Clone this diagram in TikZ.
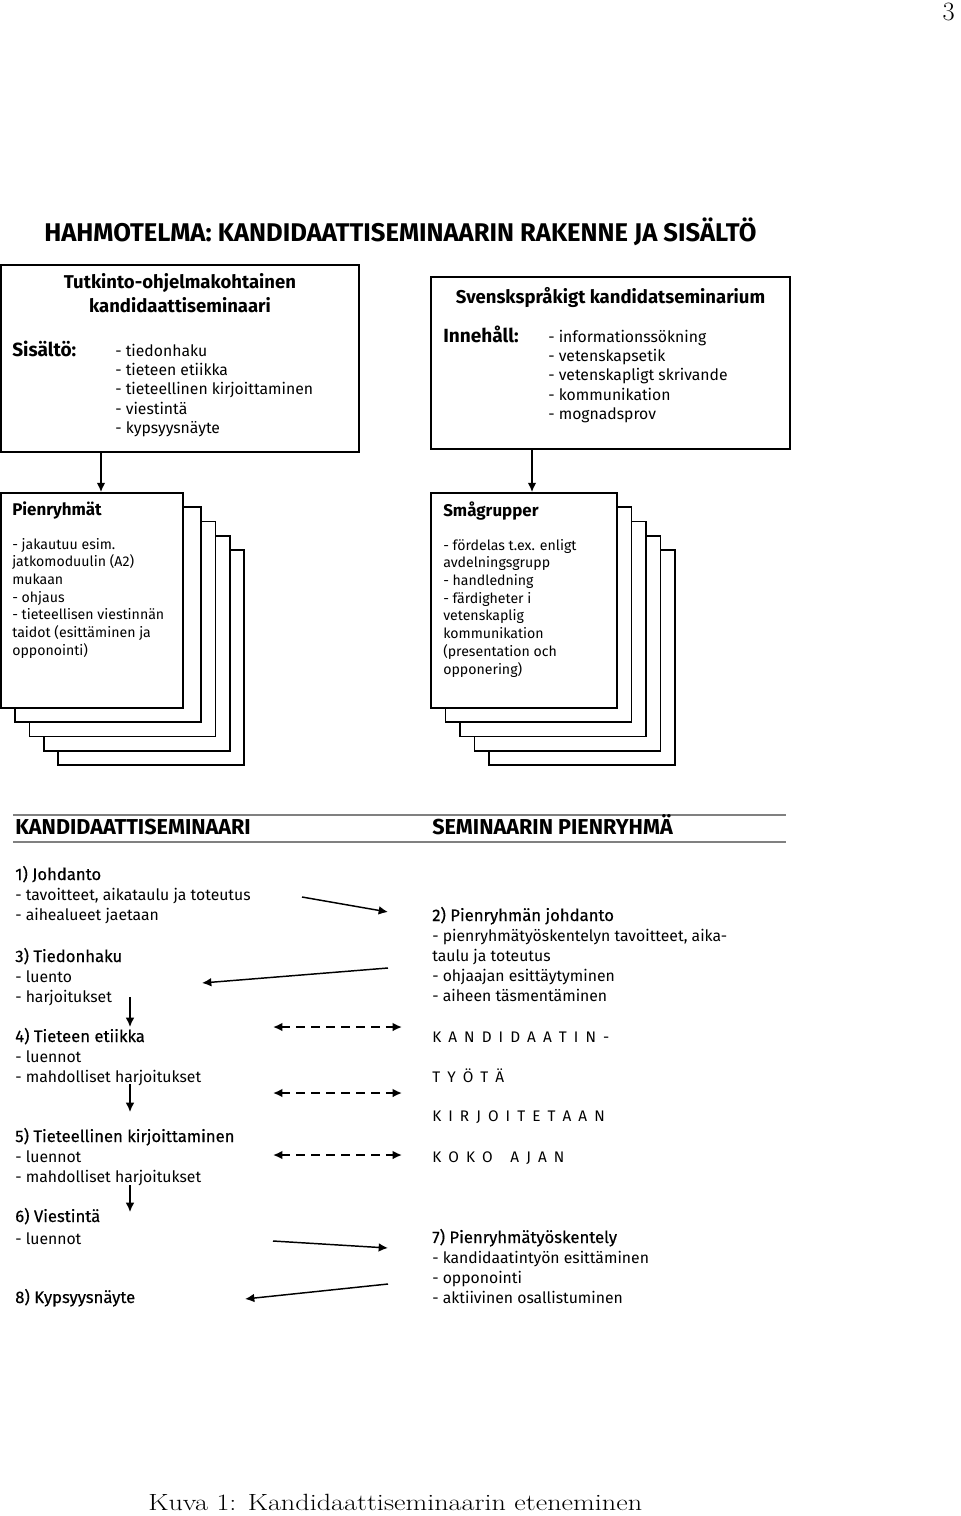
\documentclass[tikz,border=0pt]{standalone}
\usepackage{fontspec}
\usetikzlibrary{arrows.meta,fit}
\newfontfamily\fira{Fira Sans}
\newfontfamily\firamed[FakeBold=0.45]{Fira Sans}
\newcommand\txtrows[1]{\begin{tabular}[t]{@{}l@{}}#1\end{tabular}}
\tikzset{
 outerbox/.style={draw, line width=1.35pt, inner sep=0pt},
 cardbox/.style={draw, fill=white, line width=1.35pt, inner sep=0pt},
 lbl/.style={anchor=base west, inner sep=0pt},
 ctr/.style={anchor=base, inner sep=0pt},
 titletxt/.style={lbl, font={\fira\bfseries\fontsize{19.2}{22}\selectfont}},
 boxhead/.style={ctr, font={\fira\bfseries\fontsize{13.9}{16}\selectfont}},
 boxkey/.style={lbl, font={\fira\bfseries\fontsize{14.3}{16}\selectfont}},
 boxlist/.style={lbl, font={\fira\fontsize{11.8}{14.6}\selectfont}},
 cardhead/.style={lbl, font={\fira\bfseries\fontsize{12.7}{15}\selectfont}},
 cardlist/.style={lbl, font={\fira\fontsize{10.6}{13.3}\selectfont}},
 sechead/.style={lbl, font={\fira\bfseries\fontsize{16.2}{18}\selectfont}},
 bodytxt/.style={lbl, font={\fira\fontsize{11.8}{15.05}\selectfont}},
 spaced/.style={lbl, font={\fira\fontsize{11.5}{14}\selectfont\spaceskip=5.3pt\relax}},
 arr/.style={line width=1.1pt, -{Latex[length=7pt,width=6.5pt]}},
 darr/.style={line width=1.7pt, dash pattern=on 6.7pt off 4.5pt, {Latex[length=7pt,width=6.5pt]}-{Latex[length=7pt,width=6.5pt]}},
 secline/.style={draw=black!50, line width=1.5pt},
}
\newcommand\nh[1]{{\firamed\fontsize{12.5}{15.05}\selectfont #1}}
\begin{document}
\begin{tikzpicture}[x=0.75pt,y=-0.75pt]
\useasboundingbox (0,0) rectangle (960,1516);
% page number
\node[anchor=base east, inner sep=0pt, font=\fontsize{19.8}{22}\selectfont] (pg) at (955,21) {3};
% title
\node[titletxt] (title) at (44,241) {HAHMOTELMA: KANDIDAATTISEMINAARIN RAKENNE JA SISÄLTÖ};
% top boxes
\node[outerbox, fit={(1,265) (359,452)}] (b1) {};
\node[boxhead] (b1h) at (180,288) {\begin{tabular}[t]{@{}c@{}}Tutkinto-ohjelmakohtainen\\[2pt]kandidaattiseminaari\end{tabular}};
\node[boxkey] (b1k) at (12,356) {Sisältö:};
\node[boxlist] (b1l) at (115,356) {\txtrows{- tiedonhaku\\- tieteen etiikka\\- tieteellinen kirjoittaminen\\- viestintä\\- kypsyysnäyte}};
\node[outerbox, fit={(431,277) (790,449)}] (b2) {};
\node[boxhead] (b2h) at (610.5,303) {Svenskspråkigt kandidatseminarium};
\node[boxkey] (b2k) at (443,342) {Innehåll:};
\node[boxlist] (b2l) at (548,342) {\txtrows{- informationssökning\\- vetenskapsetik\\- vetenskapligt skrivande\\- kommunikation\\- mognadsprov}};
% card stacks
\foreach \k in {4,3,2,1}{
  \node[cardbox, fit={({1+14.25*\k},{493+14.25*\k}) ({187+14.25*\k},{708+14.25*\k})}] (L\k) {};
}
\node[cardbox, fit={(1,493) (183,708)}] (L0) {};
\foreach \k in {4,3,2,1}{
  \node[cardbox, fit={({431+14.5*\k},{493+14.25*\k}) ({617+14.5*\k},{708+14.25*\k})}] (R\k) {};
}
\node[cardbox, fit={(431,493) (617,708)}] (R0) {};
\node[cardhead] (L0h) at (12,515) {Pienryhmät};
\node[cardlist] (L0t) at (12,549) {\txtrows{- jakautuu esim.\\jatkomoduulin (A2)\\mukaan\\- ohjaus\\- tieteellisen viestinnän\\taidot (esittäminen ja\\opponointi)}};
\node[cardhead] (R0h) at (443,516) {Smågrupper};
\node[cardlist] (R0t) at (443,550) {\txtrows{- fördelas t.ex. enligt\\avdelningsgrupp\\- handledning\\- färdigheter i\\vetenskaplig\\kommunikation\\(presentation och\\opponering)}};
\coordinate (ax1) at (101,0);
\coordinate (ax2) at (532,0);
\draw[arr] (ax1 |- b1.south) -- (ax1 |- L0.north);
\draw[arr] (ax2 |- b2.south) -- (ax2 |- R0.north);
% section header
\coordinate (sl1) at (13,815); \coordinate (sr1) at (786,815);
\coordinate (sl2) at (13,842); \coordinate (sr2) at (786,842);
\draw[secline] (sl1) -- (sr1);
\draw[secline] (sl2) -- (sr2);
\node[sechead] (h1) at (15,834) {KANDIDAATTISEMINAARI};
\node[sechead] (h2) at (432,834) {SEMINAARIN PIENRYHMÄ};
% left column
\node[bodytxt] (s1) at (15,880) {\txtrows{\nh{1) Johdanto}\\- tavoitteet, aikataulu ja toteutus\\- aihealueet jaetaan}};
\node[bodytxt] (s3) at (15,962) {\txtrows{\nh{3) Tiedonhaku}\\- luento\\- harjoitukset}};
\node[bodytxt] (s4) at (15,1042) {\txtrows{\nh{4) Tieteen etiikka}\\- luennot\\- mahdolliset harjoitukset}};
\node[bodytxt] (s5) at (15,1142) {\txtrows{\nh{5) Tieteellinen kirjoittaminen}\\- luennot\\- mahdolliset harjoitukset}};
\node[bodytxt] (s6) at (15,1222) {\txtrows{\nh{6) Viestintä}\\[1.5pt]- luennot}};
\node[bodytxt] (s8) at (15,1303) {\nh{8) Kypsyysnäyte}};
% right column
\node[bodytxt] (s2) at (432,921) {\txtrows{\nh{2) Pienryhmän johdanto}\\- pienryhmätyöskentelyn tavoitteet, aika-\\taulu ja toteutus\\- ohjaajan esittäytyminen\\- aiheen täsmentäminen}};
\node[spaced] (k1) at (432,1042) {K A N D I D A A T I N -};
\node[spaced] (k2) at (432,1082) {T Y Ö T Ä};
\node[spaced] (k3) at (432,1121) {K I R J O I T E T A A N};
\node[spaced] (k4) at (432,1162) {K O K O\hspace{8pt} A J A N};
\node[bodytxt] (s7) at (432,1243) {\txtrows{\nh{7) Pienryhmätyöskentely}\\- kandidaatintyön esittäminen\\- opponointi\\- aktiivinen osallistuminen}};
% arrows
\coordinate (a1s) at (302,897); \coordinate (a1e) at (388,912);
\coordinate (a2s) at (388,968); \coordinate (a2e) at (202,983);
\coordinate (d1s) at (130,997); \coordinate (d1e) at (130,1027);
\coordinate (d2s) at (130,1084); \coordinate (d2e) at (130,1112);
\coordinate (d3s) at (130,1185); \coordinate (d3e) at (130,1212);
\coordinate (x1l) at (273,1027); \coordinate (x1r) at (402,1027);
\coordinate (x2l) at (273,1093); \coordinate (x2r) at (402,1093);
\coordinate (x3l) at (273,1155); \coordinate (x3r) at (402,1155);
\coordinate (a3s) at (273,1241); \coordinate (a3e) at (388,1248);
\coordinate (a4s) at (388,1284); \coordinate (a4e) at (245,1299);
\draw[arr] (a1s) -- (a1e);
\draw[arr] (a2s) -- (a2e);
\draw[arr] (d1s) -- (d1e);
\draw[arr] (d2s) -- (d2e);
\draw[arr] (d3s) -- (d3e);
\draw[darr] (x1l) -- (x1r);
\draw[darr] (x2l) -- (x2r);
\draw[darr] (x3l) -- (x3r);
\draw[arr] (a3s) -- (a3e);
\draw[arr] (a4s) -- (a4e);
% caption
\node[anchor=base west, inner sep=0pt, font=\fontsize{17.6}{20}\selectfont] (cap) at (148,1510) {\scalebox{1.2}[1]{Kuva 1: Kandidaattiseminaarin eteneminen}};
\end{tikzpicture}
\end{document}
